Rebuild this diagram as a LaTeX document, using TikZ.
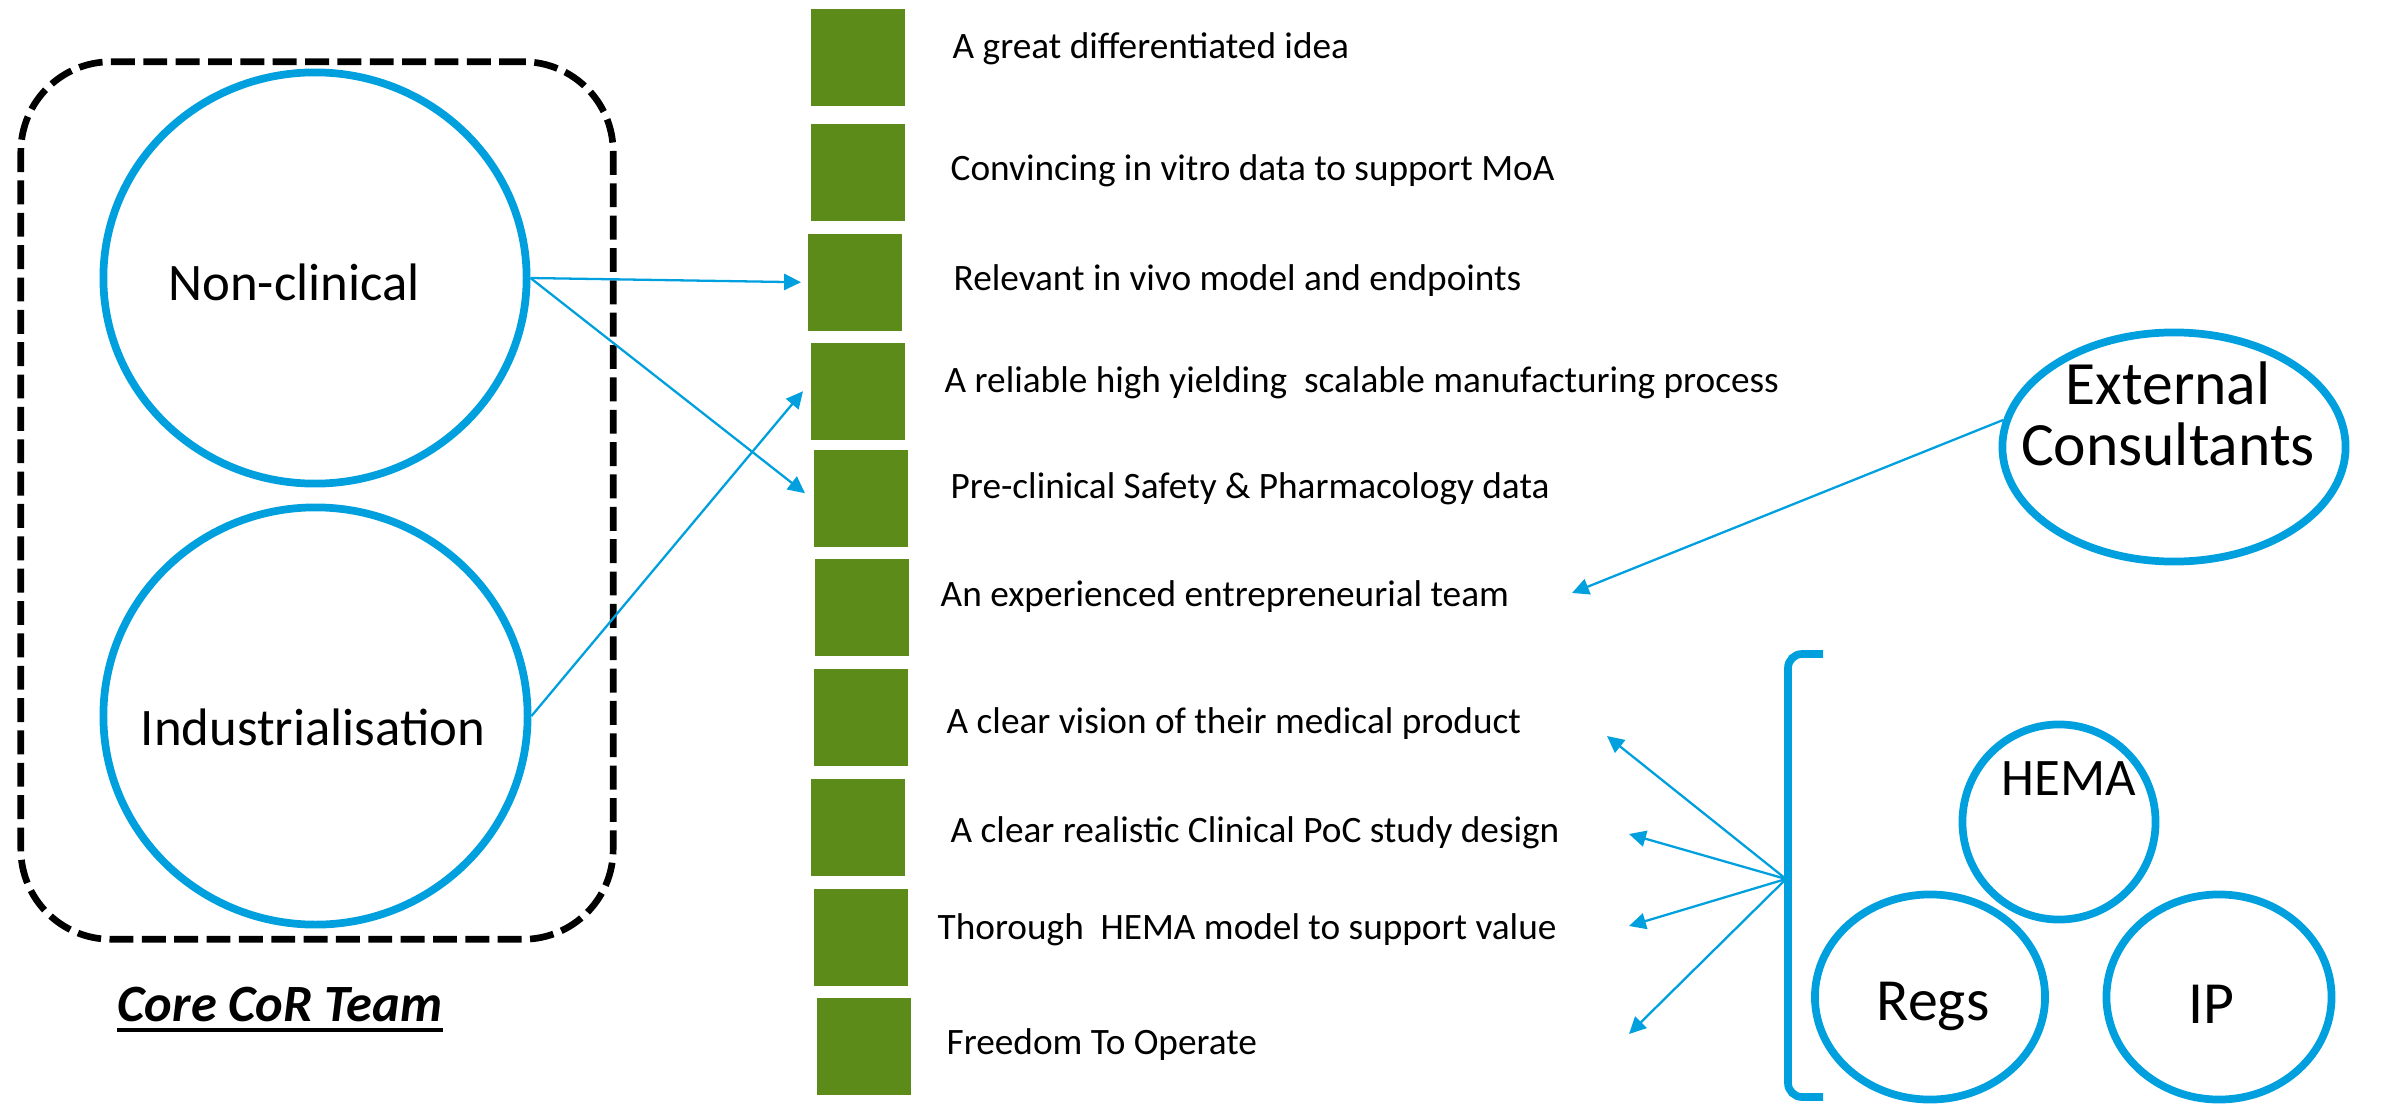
\documentclass[tikz,border=0pt]{standalone}
\usepackage{fontspec}
\setmainfont{Carlito}
\usetikzlibrary{shapes.geometric,arrows.meta}
\definecolor{cblue}{RGB}{0,160,223}
\definecolor{cgreen}{RGB}{92,139,26}
\begin{document}
\begin{tikzpicture}[x=0.01cm,y=-0.01cm,
  blob/.style={draw=cblue, line width=2.2pt, ellipse, inner sep=0pt},
  sq/.style={fill=cgreen, minimum width=0.94cm, minimum height=0.97cm, inner sep=0pt, anchor=north west},
  item/.style={anchor=west, font=\fontsize{10.6}{12.7}\selectfont, inner sep=0pt, text height=0.75em, text depth=0.25em},
  big/.style={inner sep=0pt, font=\fontsize{15}{18}\selectfont},
  link/.style={draw=cblue, line width=0.65pt, -{Triangle[length=4.8pt,width=4.6pt]}},
  teambox/.style={draw=black, line width=1.9pt, dash pattern=on 6.8pt off 2.4pt, rounded corners=0.9cm, inner sep=0pt}
]
\useasboundingbox (0,0) rectangle (2396,1115);

% core team box
\node[teambox, minimum width=5.92cm, minimum height=8.77cm] (core) at (317,500.5) {};
\node[blob, minimum width=4.23cm, minimum height=4.11cm] (nc) at (315,278) {};
\node[big] (nclbl) at (294,282) {Non-clinical};
\node[blob, minimum width=4.24cm, minimum height=4.17cm] (ind) at (315.5,716) {};
\node[big] (indlbl) at (313,727) {Industrialisation};
\node[inner sep=0pt, text depth=0pt, font=\bfseries\itshape\fontsize{14.9}{17}\selectfont] (corelbl) at (280,1004) {Core CoR Team};
\draw[line width=1.2pt] ([yshift=-0.08cm]corelbl.south west) -- ([yshift=-0.08cm]corelbl.south east);

% squares
\node[sq] (sq1) at (810,8) {};
\node[sq] (sq2) at (810,123) {};
\node[sq] (sq3) at (807,233) {};
\node[sq] (sq4) at (810,342) {};
\node[sq] (sq5) at (813,449) {};
\node[sq] (sq6) at (814,558) {};
\node[sq] (sq7) at (813,668) {};
\node[sq] (sq8) at (810,778) {};
\node[sq] (sq9) at (813,888) {};
\node[sq] (sq10) at (816,997) {};

% items
\node[item] (t1) at (952,50) {A great differentiated idea};
\node[item] (t2) at (950,172) {Convincing in vitro data to support MoA};
\node[item] (t3) at (953,282) {Relevant in vivo model and endpoints};
\node[item] (t4) at (944,384) {A reliable high yielding\ \ scalable manufacturing process};
\node[item] (t5) at (950,490) {Pre-clinical Safety \& Pharmacology data};
\node[item] (t6) at (940,598) {An experienced entrepreneurial team};
\node[item] (t7) at (946,725) {A clear vision of their medical product};
\node[item] (t8) at (950,834) {A clear realistic Clinical PoC study design};
\node[item] (t9) at (937,931) {Thorough\ \ HEMA model to support value};
\node[item] (t10) at (946,1046) {Freedom To Operate};

% external consultants
\node[blob, minimum width=3.43cm, minimum height=2.29cm] (ext) at (2174,447) {};
\node[inner sep=0pt, align=center, font=\fontsize{17.5}{17.5}\selectfont] (extlbl) at (2168,414) {External\\Consultants};

% bracket group
\node[blob, minimum width=1.93cm, minimum height=1.95cm] (hema) at (2059,822) {};
\node[big] (hemalbl) at (2069,779) {HEMA};
\node[blob, minimum width=2.30cm, minimum height=2.05cm] (regs) at (1930,997) {};
\node[inner sep=0pt, font=\fontsize{17}{20}\selectfont] (regslbl) at (1933,1006) {Regs};
\node[blob, minimum width=2.25cm, minimum height=2.05cm] (ip) at (2219,997) {};
\node[inner sep=0pt, font=\fontsize{17}{20}\selectfont] (iplbl) at (2211,1004) {IP};

\coordinate (brtop) at (1823,654);
\coordinate (brbot) at (1823,1097);
\coordinate (fan) at (1786,879);
\draw[cblue, line width=2.2pt, rounded corners=4pt] (brtop) -- (1788,654) -- (1788,1097) -- (brbot);

\coordinate (f1) at (1607,736);
\coordinate (f2) at (1629,834);
\coordinate (f3) at (1629,926);
\coordinate (f4) at (1629,1034);
\coordinate (exttip) at (1572,593);

% connectors
\draw[link] (nc.east) -- ([xshift=-0.06cm]sq3.west);
\draw[link] (nc.east) -- ([xshift=-0.08cm,yshift=0.05cm]sq5.west);
\draw[link] (ind.east) -- ([xshift=-0.07cm]sq4.west);
\draw[link] (ext.171) -- (exttip);
\draw[link] (fan) -- (f1);
\draw[link] (fan) -- (f2);
\draw[link] (fan) -- (f3);
\draw[link] (fan) -- (f4);
\end{tikzpicture}
\end{document}
